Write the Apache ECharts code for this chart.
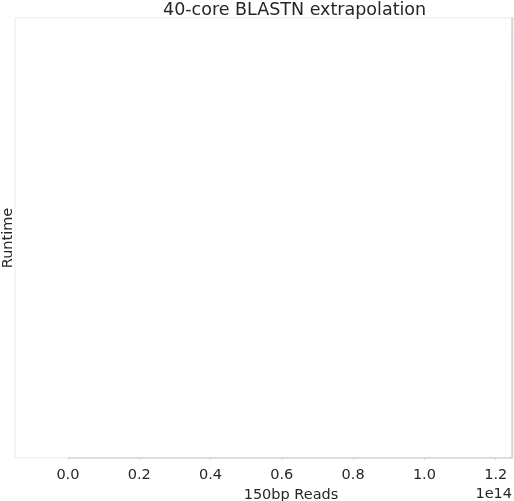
<!DOCTYPE html>
<html>
<head>
<meta charset="utf-8">
<script src="https://cdn.jsdelivr.net/npm/echarts@6/dist/echarts.min.js"></script>
<style>html,body{margin:0;padding:0;background:#fff}#c{width:514px;height:501px}</style>
</head>
<body>
<div id="c"></div>
<script>
// Data (reads in raw count, runtime in arbitrary units normalised to axis max 1)
const reads = [0, 1.246e14, 1.246e14];
const runtime = [0, 0, 1.5];
const xTickValues = [0, 0.2e14, 0.4e14, 0.6e14, 0.8e14, 1.0e14, 1.2e14];
const xTickLabels = ['0.0', '0.2', '0.4', '0.6', '0.8', '1.0', '1.2'];
const bandReads = [1.2445e14, 1.2485e14];
const bandRuntime = [0.86, 0.965];

const FONT = 'DejaVu Sans';
const TXT = '#262626';

const chart = echarts.init(document.getElementById('c'), null, {renderer: 'canvas'});
chart.setOption({
  animation: false,
  backgroundColor: '#ffffff',
  title: {
    text: '40-core BLASTN extrapolation',
    left: 163, top: 1, padding: 0,
    textStyle: {fontFamily: FONT, fontSize: 17.5, fontWeight: 'normal', color: TXT}
  },
  grid: {
    left: 15, right: 1, top: 18, bottom: 43,
    outerBoundsMode: 'none', containLabel: false,
    show: true, borderColor: '#ebebeb', borderWidth: 1, backgroundColor: '#ffffff'
  },
  xAxis: {
    type: 'value',
    min: -0.1484e14, max: 1.2485e14,
    name: '150bp Reads',
    nameLocation: 'middle',
    nameGap: 29,
    nameTextStyle: {fontFamily: FONT, fontSize: 14.5, color: TXT, padding: [0, 0, 0, 54]},
    axisLine: {show: false},
    splitLine: {show: false},
    axisTick: {show: true, customValues: xTickValues, length: 2, inside: false, lineStyle: {color: '#d8d8d8'}},
    axisLabel: {
      customValues: xTickValues,
      fontFamily: FONT, fontSize: 14.5, color: TXT, margin: 10,
      formatter: function (v) {
        const i = xTickValues.findIndex(t => Math.abs(t - v) < 1e9);
        return i >= 0 ? xTickLabels[i] : '';
      }
    }
  },
  yAxis: {
    type: 'value',
    min: 0, max: 1,
    name: 'Runtime',
    nameLocation: 'middle',
    nameGap: -1,
    nameRotate: 90,
    nameTextStyle: {fontFamily: FONT, fontSize: 14.5, color: TXT},
    axisLine: {show: false},
    axisTick: {show: false},
    axisLabel: {show: false},
    splitLine: {show: false}
  },
  graphic: [{
    type: 'text',
    right: 2, top: 487,
    style: {text: '1e14', font: '14.5px "DejaVu Sans"', fill: TXT}
  }],
  series: [{
    type: 'line',
    data: reads.map((x, i) => [x, runtime[i]]),
    showSymbol: false,
    clip: true,
    lineStyle: {color: '#cfcfcf', width: 1.5},
    markArea: {
      silent: true,
      itemStyle: {color: 'rgba(170,230,215,0.3)'},
      data: [[{coord: [bandReads[0], bandRuntime[0]]}, {coord: [bandReads[1], bandRuntime[1]]}]]
    }
  }]
});
</script>
</body>
</html>
